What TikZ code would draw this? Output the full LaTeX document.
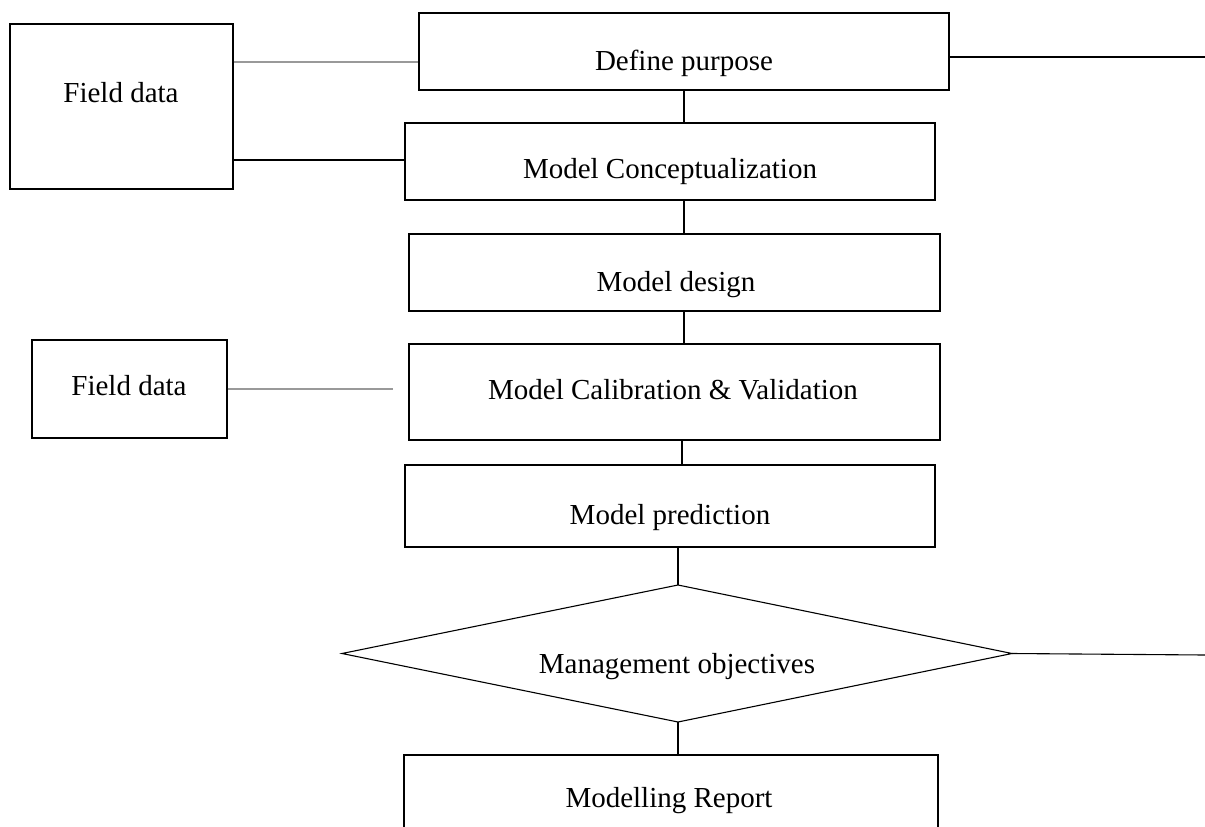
\documentclass[tikz,border=0pt]{standalone}
\usepackage{fontspec}
\setmainfont{Liberation Serif}
\begin{document}
\begin{tikzpicture}[x=1pt,y=-1pt,
  boxline/.style={draw=black,line width=1.1pt},
  stepbox/.style={boxline,rectangle,inner sep=0pt},
  conn/.style={draw=black,line width=1.1pt},
  greyconn/.style={draw=black!40,line width=1.1pt},
  lbl/.style={anchor=base,inner sep=0pt,font=\fontsize{29}{34}\selectfont}]
\useasboundingbox (0,0) rectangle (1205,827);
% boxes
\node[stepbox,minimum width=223pt,minimum height=165pt] (f1) at (121.5,106.5) {};
\node[stepbox,minimum width=195pt,minimum height=98pt] (f2) at (129.5,389) {};
\node[stepbox,minimum width=530pt,minimum height=77pt] (dp) at (684,51.5) {};
\node[stepbox,minimum width=530pt,minimum height=77pt] (cc) at (670,161.5) {};
\node[stepbox,minimum width=531pt,minimum height=77pt] (md) at (674.5,272.5) {};
\node[stepbox,minimum width=531pt,minimum height=96pt] (cv) at (674.5,392) {};
\node[stepbox,minimum width=530pt,minimum height=82pt] (mp) at (670,506) {};
% diamond
\coordinate (moL) at (342,653.5);
\coordinate (moT) at (678,585);
\coordinate (moR) at (1012,653.5);
\coordinate (moB) at (678,722);
\draw[boxline] (moL) -- (moT) -- (moR) -- (moB) -- cycle;
% report (cut off at bottom)
\coordinate (rpBL) at (404,827);
\coordinate (rpTL) at (404,755);
\coordinate (rpTR) at (938,755);
\coordinate (rpBR) at (938,827);
\draw[boxline] (rpBL) -- (rpTL) -- (rpTR) -- (rpBR);
% labels
\node[lbl] (t1) at (121,102) {Field data};
\node[lbl] (t2) at (129,395) {Field data};
\node[lbl] (t3) at (684,70) {Define purpose};
\node[lbl] (t4) at (670,178) {Model Conceptualization};
\node[lbl] (t5) at (676,291) {Model design};
\node[lbl] (t6) at (673,399) {Model Calibration \& Validation};
\node[lbl] (t7) at (670,524) {Model prediction};
\node[lbl] (t8) at (677,673) {Management objectives};
\node[lbl] (t9) at (669,807) {Modelling Report};
% free ends
\coordinate (endA) at (1205,57);
\coordinate (endB) at (1205,655);
\coordinate (endC) at (393,389);
% connectors
\draw[greyconn] ([yshift=44.5pt]f1.east) -- ([yshift=44.5pt]f1.east -| dp.west);
\draw[conn] ([yshift=-53.5pt]f1.east) -- ([yshift=-53.5pt]f1.east -| cc.west);
\draw[greyconn] (f2.east) -- (endC);
\draw[conn] ([yshift=-5.5pt]dp.east) -- (endA);
\draw[conn] (moR) -- (endB);
\draw[conn] (dp.south) -- (dp.south |- cc.north);
\draw[conn] (cc.south -| dp.south) -- (md.north -| dp.south);
\draw[conn] (md.south -| dp.south) -- (cv.north -| dp.south);
\draw[conn] ([xshift=7.5pt]cv.south) -- ([xshift=7.5pt]cv.south |- mp.north);
\draw[conn] (mp.south -| moT) -- (moT);
\draw[conn] (moB) -- (rpTL -| moB);
\end{tikzpicture}
\end{document}
